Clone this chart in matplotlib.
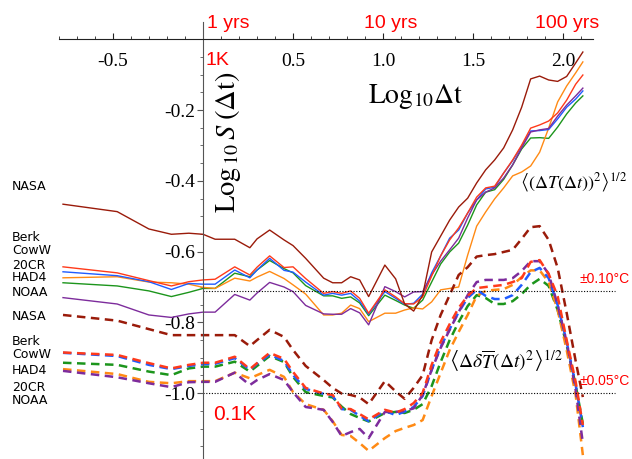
import matplotlib

matplotlib.use("Agg")

import matplotlib.pyplot as plt
import numpy as np

plt.rcParams["mathtext.fontset"] = "stix"
plt.rcParams["font.family"] = ["Liberation Serif", "DejaVu Serif"]

# log10 of the lag, years
LOG_DT = [
    -0.778, -0.477, -0.301, -0.176, -0.079, 0.0, 0.067, 0.176, 0.26, 0.30,
    0.37, 0.45, 0.50, 0.57, 0.67, 0.72, 0.77, 0.82, 0.87, 0.92,
    1.01, 1.07, 1.12, 1.17, 1.22, 1.27, 1.32, 1.37, 1.42, 1.47,
    1.52, 1.57, 1.62, 1.67, 1.72, 1.77, 1.82, 1.87, 1.92, 1.97,
    2.02, 2.07, 2.11,
]

# rms differences <(dT)^2>^1/2 (solid)
NASA_SOLID = [
    -0.466, -0.487, -0.536, -0.551, -0.548, -0.551, -0.565, -0.565, -0.589, -0.564,
    -0.539, -0.567, -0.583, -0.619, -0.675, -0.688, -0.688, -0.671, -0.680, -0.727,
    -0.638, -0.677, -0.748, -0.768, -0.723, -0.601, -0.556, -0.511, -0.474, -0.449,
    -0.406, -0.369, -0.341, -0.307, -0.256, -0.192, -0.112, -0.104, -0.115, -0.119,
    -0.105, -0.067, -0.036,
]
BERK_SOLID = [
    -0.643, -0.660, -0.682, -0.697, -0.685, -0.680, -0.678, -0.643, -0.666, -0.644,
    -0.612, -0.645, -0.643, -0.676, -0.718, -0.713, -0.718, -0.711, -0.732, -0.774,
    -0.708, -0.728, -0.747, -0.748, -0.728, -0.669, -0.612, -0.567, -0.533, -0.491,
    -0.446, -0.420, -0.415, -0.378, -0.341, -0.299, -0.251, -0.242, -0.231, -0.208,
    -0.172, -0.127, -0.101,
]
COWW_SOLID = [
    -0.657, -0.668, -0.685, -0.707, -0.690, -0.692, -0.692, -0.652, -0.674, -0.652,
    -0.619, -0.653, -0.658, -0.686, -0.723, -0.718, -0.723, -0.718, -0.740, -0.777,
    -0.713, -0.732, -0.749, -0.746, -0.720, -0.660, -0.612, -0.562, -0.539, -0.491,
    -0.454, -0.423, -0.418, -0.378, -0.343, -0.302, -0.259, -0.258, -0.255, -0.225,
    -0.192, -0.169, -0.146,
]
C20CR_SOLID = [
    -0.674, -0.671, -0.686, -0.688, -0.692, -0.701, -0.704, -0.675, -0.683, -0.672,
    -0.656, -0.676, -0.694, -0.720, -0.779, -0.779, -0.774, -0.751, -0.761, -0.798,
    -0.774, -0.774, -0.765, -0.759, -0.762, -0.742, -0.708, -0.704, -0.700, -0.610,
    -0.528, -0.488, -0.451, -0.420, -0.386, -0.375, -0.358, -0.319, -0.251, -0.177,
    -0.132, -0.095, -0.064,
]
HAD4_SOLID = [
    -0.688, -0.697, -0.711, -0.727, -0.715, -0.704, -0.704, -0.661, -0.671, -0.652,
    -0.625, -0.648, -0.660, -0.696, -0.725, -0.725, -0.732, -0.728, -0.745, -0.781,
    -0.723, -0.738, -0.751, -0.760, -0.737, -0.686, -0.635, -0.601, -0.576, -0.525,
    -0.468, -0.432, -0.425, -0.396, -0.355, -0.310, -0.279, -0.278, -0.280, -0.248,
    -0.211, -0.180, -0.160,
]
NOAA_SOLID = [
    -0.730, -0.748, -0.779, -0.786, -0.776, -0.771, -0.771, -0.721, -0.737, -0.717,
    -0.687, -0.700, -0.713, -0.752, -0.776, -0.777, -0.777, -0.761, -0.773, -0.807,
    -0.699, -0.713, -0.728, -0.714, -0.713, -0.666, -0.627, -0.595, -0.562, -0.505,
    -0.454, -0.432, -0.420, -0.392, -0.355, -0.307, -0.262, -0.256, -0.252, -0.217,
    -0.186, -0.160, -0.138,
]

# rms anomaly differences <(d dT)^2>^1/2 (dashed)
NASA_DASHED = [
    -0.779, -0.795, -0.819, -0.836, -0.836, -0.836, -0.836, -0.836, -0.867, -0.850,
    -0.821, -0.841, -0.878, -0.923, -0.963, -0.985, -1.001, -1.005, -1.012, -1.031,
    -0.966, -0.995, -1.016, -0.985, -0.949, -0.850, -0.779, -0.723, -0.666, -0.644,
    -0.614, -0.610, -0.607, -0.601, -0.595, -0.564, -0.531, -0.528, -0.567, -0.646,
    -0.773, -0.909, -1.011,
]
BERK_DASHED = [
    -0.885, -0.892, -0.915, -0.930, -0.920, -0.914, -0.914, -0.897, -0.932, -0.915,
    -0.886, -0.903, -0.940, -0.985, -1.001, -1.005, -1.043, -1.045, -1.059, -1.074,
    -1.047, -1.055, -1.045, -1.028, -0.999, -0.920, -0.855, -0.805, -0.759, -0.725,
    -0.703, -0.700, -0.697, -0.694, -0.686, -0.675, -0.629, -0.624, -0.663, -0.726,
    -0.850, -0.968, -1.090,
]
COWW_DASHED = [
    -0.886, -0.895, -0.920, -0.932, -0.923, -0.918, -0.917, -0.901, -0.934, -0.917,
    -0.891, -0.909, -0.949, -0.988, -1.002, -1.008, -1.045, -1.047, -1.064, -1.079,
    -1.050, -1.062, -1.052, -1.039, -1.008, -0.934, -0.869, -0.819, -0.771, -0.731,
    -0.708, -0.725, -0.734, -0.734, -0.723, -0.694, -0.658, -0.646, -0.675, -0.751,
    -0.855, -0.977, -1.096,
]
HAD4_DASHED = [
    -0.914, -0.920, -0.939, -0.949, -0.930, -0.925, -0.925, -0.911, -0.939, -0.923,
    -0.895, -0.912, -0.954, -0.997, -1.008, -1.012, -1.038, -1.059, -1.070, -1.080,
    -1.056, -1.053, -1.056, -1.047, -1.031, -0.980, -0.912, -0.850, -0.799, -0.754,
    -0.723, -0.731, -0.748, -0.748, -0.740, -0.720, -0.694, -0.677, -0.697, -0.765,
    -0.864, -0.977, -1.087,
]
C20CR_DASHED = [
    -0.932, -0.946, -0.968, -0.972, -0.966, -0.966, -0.966, -0.942, -0.958, -0.949,
    -0.934, -0.954, -0.997, -1.031, -1.047, -1.079, -1.118, -1.121, -1.141, -1.163,
    -1.127, -1.107, -1.098, -1.090, -1.076, -1.008, -0.943, -0.878, -0.827, -0.779,
    -0.725, -0.711, -0.708, -0.706, -0.694, -0.672, -0.653, -0.653, -0.686, -0.765,
    -0.878, -1.005, -1.175,
]
NOAA_DASHED = [
    -0.937, -0.955, -0.972, -0.983, -0.969, -0.968, -0.968, -0.942, -0.977, -0.963,
    -0.946, -0.963, -0.997, -1.039, -1.047, -1.081, -1.121, -1.110, -1.101, -1.127,
    -1.053, -1.053, -1.050, -1.043, -1.005, -0.934, -0.872, -0.821, -0.771, -0.723,
    -0.686, -0.680, -0.680, -0.680, -0.675, -0.655, -0.627, -0.627, -0.663, -0.751,
    -0.855, -0.991, -1.141,
]

SOLID_NAMES = ["NASA", "Berk", "CowW", "20CR", "HAD4", "NOAA"]
DASHED_NAMES = ["NASA", "Berk", "CowW", "HAD4", "20CR", "NOAA"]
REF_LEVELS = [-0.71, -1.0]
REF_LABELS = ["\u00b10.10\u00b0C", "\u00b10.05\u00b0C"]
X_MAJOR = [-0.5, 0.5, 1.0, 1.5, 2.0]
X_LABELS = ["-0.5", "0.5", "1.0", "1.5", "2.0"]
Y_MAJOR = [-0.2, -0.4, -0.6, -0.8, -1.0]
Y_LABELS = ["-0.2", "-0.4", "-0.6", "-0.8", "-1.0"]
YEAR_MARKS = [("1 yrs", 0.14), ("10 yrs", 1.04), ("100 yrs", 2.025)]

COLORS = {
    "NASA": "#9a1b0a",
    "Berk": "#ff3a1a",
    "CowW": "#1f5cff",
    "20CR": "#ff8a14",
    "HAD4": "#1c951c",
    "NOAA": "#7d2c9c",
}

solid_series = dict(zip(
    ["NASA", "Berk", "CowW", "20CR", "HAD4", "NOAA"],
    [NASA_SOLID, BERK_SOLID, COWW_SOLID, C20CR_SOLID, HAD4_SOLID, NOAA_SOLID],
))
dashed_series = dict(zip(
    ["NASA", "Berk", "CowW", "20CR", "HAD4", "NOAA"],
    [NASA_DASHED, BERK_DASHED, COWW_DASHED, C20CR_DASHED, HAD4_DASHED, NOAA_DASHED],
))

fig = plt.figure(figsize=(6.32, 4.59), dpi=100)
ax = fig.add_axes([0, 0, 1, 1])
ax.set_xlim(-1.128, 2.383)
ax.set_ylim(-1.186, 0.111)
ax.patch.set_alpha(0)

for name in ["HAD4", "20CR", "CowW", "NOAA", "Berk", "NASA"]:
    ax.plot(LOG_DT, solid_series[name], color=COLORS[name], lw=1.0)
for name in ["HAD4", "20CR", "CowW", "NOAA", "Berk", "NASA"]:
    ax.plot(LOG_DT, dashed_series[name], color=COLORS[name], lw=1.8,
            dashes=(3.4, 2.2))

for level, label in zip(REF_LEVELS, REF_LABELS):
    ax.plot([0, 2.29], [level, level], color="black", lw=0.8, ls=(0, (1, 1.5)))
    ax.text(2.094, level + 0.033, label, color="red", fontsize=10,
            family="Liberation Sans", ha="left", va="center")

# axes crossing at the origin, Mathematica style
for side in ("top", "right"):
    ax.spines[side].set_visible(False)
ax.spines["bottom"].set_position(("data", 0))
ax.spines["bottom"].set_bounds(-0.8, 2.167)
ax.spines["left"].set_position(("data", 0))
ax.spines["left"].set_bounds(-1.186, 0.048)
ax.spines["bottom"].set_color("#222222")
ax.spines["left"].set_color("#555555")

ax.set_xticks(X_MAJOR)
ax.set_xticklabels(X_LABELS)
ax.set_xticks(np.arange(-0.8, 2.15, 0.1), minor=True)
ax.set_yticks(Y_MAJOR)
ax.set_yticklabels(Y_LABELS)
ax.set_yticks(np.arange(-1.15, 0.0, 0.05), minor=True)
ax.tick_params(axis="x", which="both", direction="in", colors="#222222",
               labelcolor="black", labelsize=14, pad=10)
ax.tick_params(axis="x", which="major", length=4.5, width=0.8)
ax.tick_params(axis="x", which="minor", length=2.5, width=0.6)
ax.tick_params(axis="y", which="both", direction="out", colors="#555555",
               labelcolor="black", labelsize=14, pad=1)
ax.tick_params(axis="y", which="major", length=4.5, width=0.8)
ax.tick_params(axis="y", which="minor", length=2.5, width=0.6)

ax.text(1.183, -0.180, r"$\mathrm{Log}_{10}\Delta\mathrm{t}$", fontsize=20,
        ha="center", va="baseline")
ax.text(0.139, -0.290,
        r"$\mathrm{Log}_{\,10}\,S\;(\Delta\mathrm{t})$", fontsize=20.5,
        rotation=90, ha="center", va="center")

for label, xpos in YEAR_MARKS:
    ax.text(xpos, 0.046, label, color="red", fontsize=14, family="Liberation Sans",
            ha="center", va="center")
ax.text(0.011, -0.059, "1K", color="red", fontsize=14, family="Liberation Sans",
        ha="left", va="center")
ax.text(0.055, -1.059, "0.1K", color="red", fontsize=15, family="Liberation Sans",
        ha="left", va="center")

ax.text(2.06, -0.405,
        r"$\left\langle\left(\Delta T\left(\Delta t\right)\right)^{2}\right\rangle^{1/2}$",
        fontsize=13, ha="center", va="center")
ax.text(1.683, -0.910,
        r"$\left\langle\Delta\delta\overline{T}\left(\Delta t\right)^{2}\right\rangle^{1/2}$",
        fontsize=14, ha="center", va="center")

# series names down the left margin
solid_label_y = [-0.417, -0.560, -0.598, -0.638, -0.673, -0.716]
dashed_label_y = [-0.784, -0.854, -0.890, -0.936, -0.983, -1.021]
for name, ypos in zip(SOLID_NAMES, solid_label_y):
    ax.text(-1.061, ypos, name, fontsize=9, family="DejaVu Sans", ha="left", va="center")
for name, ypos in zip(DASHED_NAMES, dashed_label_y):
    ax.text(-1.061, ypos, name, fontsize=9, family="DejaVu Sans", ha="left", va="center")

fig.savefig("out.png", dpi=100)
